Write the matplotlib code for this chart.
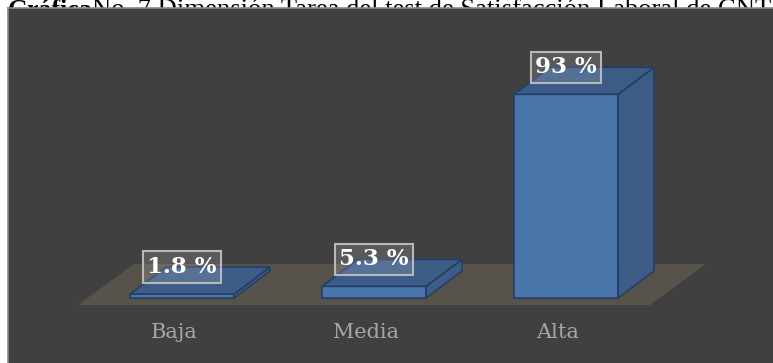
import matplotlib
matplotlib.use("Agg")
import matplotlib.pyplot as plt
from matplotlib.patches import Polygon, Rectangle

# Data
categories = ["Baja", "Media", "Alta"]
values = [1.8, 5.3, 93.0]
value_labels = ["1.8 %", "5.3 %", "93 %"]
title_bold = "Gráfica"
title_rest = "No. 7 Dimensión Tarea del test de Satisfacción Laboral de CNT"

# Colours
BG = "#404040"
FLOOR = "#57534a"
FRONT = "#4a79b3"
SIDE = "#3d5e8a"
TOP = "#3c5d8b"
EDGE = "#223d66"
LABEL_GREY = "#a6a6a6"

W, H, DPI = 773, 363, 100
fig = plt.figure(figsize=(W / DPI, H / DPI), dpi=DPI, facecolor="white")

# Chart panel geometry (pixels from the top-left corner)
px_x0, px_y0 = 8, 8

# Caption above the chart panel, partly hidden by the panel
fig.text(8 / W, 1 - 17 / H, title_bold, fontsize=18.5, fontweight="bold",
         family="Liberation Serif", va="baseline", ha="left", zorder=1)
fig.text(92 / W, 1 - 17 / H, title_rest, fontsize=19.2,
         family="Liberation Serif", va="baseline", ha="left", zorder=1)

# Panel background drawn over the caption's lower part
panel = Rectangle((px_x0 / W, 0), (W - px_x0) / W, (H - px_y0) / H,
                  transform=fig.transFigure, facecolor=BG, edgecolor="none", zorder=2)
fig.patches.append(panel)

ax = fig.add_axes([px_x0 / W, 0, (W - px_x0) / W, (H - px_y0) / H], zorder=3)
ax.patch.set_visible(False)
for s in ("right", "bottom"):
    ax.spines[s].set_visible(False)
for s in ("left", "top"):
    ax.spines[s].set_color("#8a8a8a")
    ax.spines[s].set_linewidth(1.2)
ax.set_xticks([])
ax.set_yticks([])

# Scales: one category step and one percentage point
step_px = 192.0
pct_px = 2.19
base_px = 298.0          # baseline of the bars, pixels from the top
first_px = 182.0         # centre of first category
xmin = -(first_px - px_x0) / step_px
ax.set_xlim(xmin, xmin + (W - px_x0) / step_px)
ax.set_ylim(-(H - base_px) / pct_px, (base_px - px_y0) / pct_px)

# Oblique depth offsets in data units
bar_w = 104 / step_px
bdx, bdy = 36 / step_px, 27 / pct_px            # bar depth
fdy0 = -7 / pct_px                              # floor front edge offset
fdx, fdy = 56 / step_px, 41 / pct_px            # floor depth
floor_left, floor_right = (78 - first_px) / step_px, (650 - first_px) / step_px
label_shift = -8 / step_px

# Floor
floor = Polygon([(floor_left, fdy0), (floor_right, fdy0),
                 (floor_right + fdx, fdy0 + fdy), (floor_left + fdx, fdy0 + fdy)],
                closed=True, facecolor=FLOOR, edgecolor="none", zorder=1)
ax.add_patch(floor)

for i, (v, lab) in enumerate(zip(values, value_labels)):
    x0, x1 = i - bar_w / 2, i + bar_w / 2
    # hidden edges seen through the translucent bar
    ax.plot([x0, x0 + bdx, x1 + bdx], [0, bdy, bdy], color=EDGE, lw=0.8, alpha=0.45, zorder=2)
    ax.plot([x0 + bdx, x0 + bdx], [bdy, v + bdy], color=EDGE, lw=0.8, alpha=0.45, zorder=2)
    front = Polygon([(x0, 0), (x1, 0), (x1, v), (x0, v)], closed=True,
                    facecolor=FRONT, edgecolor=EDGE, lw=1.2, alpha=0.93, zorder=3)
    side = Polygon([(x1, 0), (x1 + bdx, bdy), (x1 + bdx, v + bdy), (x1, v)], closed=True,
                   facecolor=SIDE, edgecolor=EDGE, lw=1.2, alpha=0.95, zorder=3)
    top = Polygon([(x0, v), (x1, v), (x1 + bdx, v + bdy), (x0 + bdx, v + bdy)], closed=True,
                  facecolor=TOP, edgecolor=EDGE, lw=1.2, alpha=0.95, zorder=3)
    for p in (front, side, top):
        ax.add_patch(p)
    ax.text(i, v + bdy, lab, ha="center", va="center", fontsize=16.5, fontweight="bold",
            color="white", family="DejaVu Serif", zorder=5,
            bbox=dict(boxstyle="square,pad=0.2", facecolor=(0.85, 0.85, 0.87, 0.17),
                      edgecolor="#b8b8b8", lw=1.5))
    ax.text(i + label_shift, -(333 - base_px) / pct_px, categories[i], ha="center",
            va="center", fontsize=15, color=LABEL_GREY, family="DejaVu Serif", zorder=5)

fig.savefig("out.png", dpi=DPI, facecolor="white")
